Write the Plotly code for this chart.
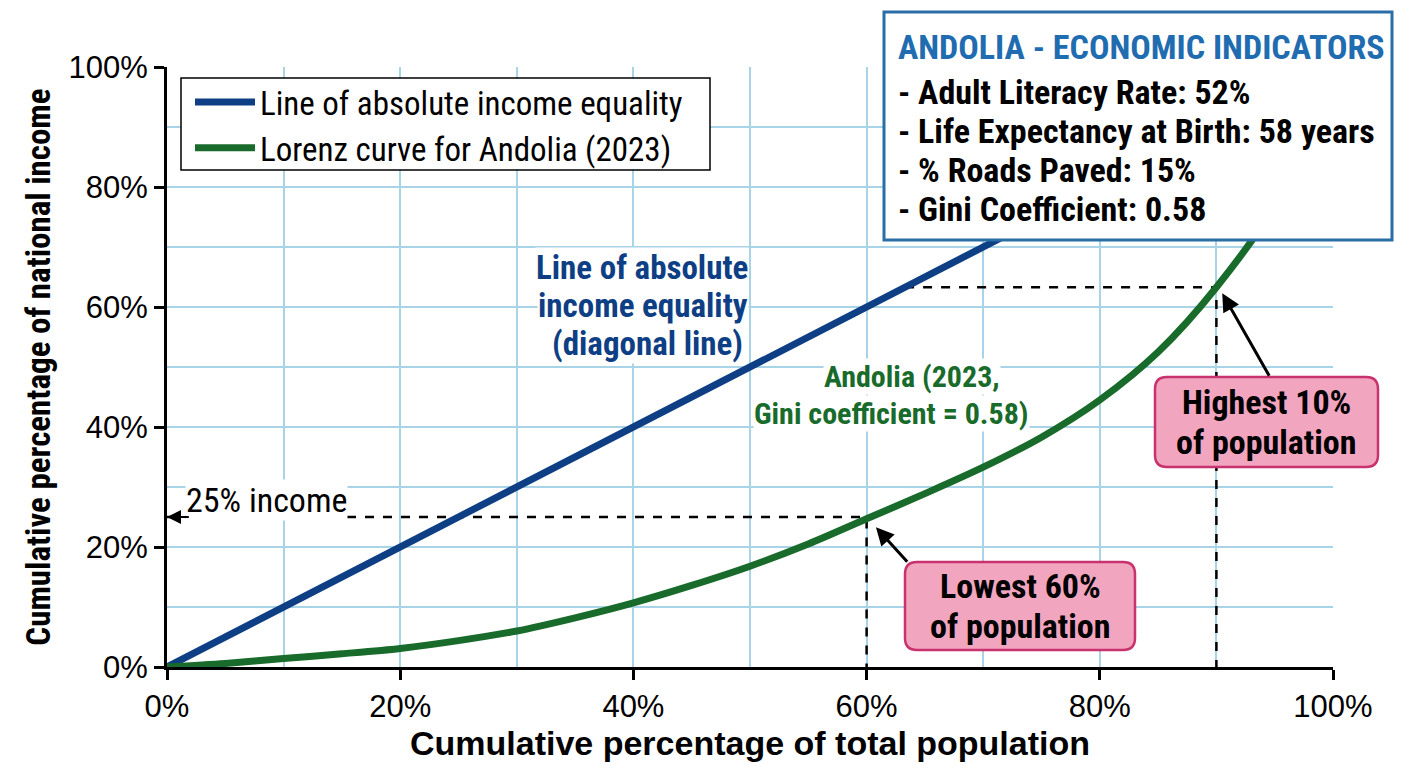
import plotly.graph_objects as go

# ---- data ----
population = [0, 5, 10, 15, 20, 25, 30, 35, 40, 45, 50, 55, 60, 65, 70, 75, 80, 85, 90, 95, 100]
lorenz_income = [0, 0.6, 1.4, 2.2, 3.1, 4.4, 6.0, 8.2, 10.7, 13.6, 16.8, 20.5, 24.7, 28.9,
                 33.3, 38.3, 44.5, 52.5, 63.3, 77, 100]
equality_x = [0, 100]
equality_y = [0, 100]
x_ticks = [0, 20, 40, 60, 80, 100]
x_tick_labels = ["0%", "20%", "40%", "60%", "80%", "100%"]
y_ticks = [0, 20, 40, 60, 80, 100]
y_tick_labels = ["0%", "20%", "40%", "60%", "80%", "100%"]
lowest_point = (60, 25)     # lowest 60% of population -> 25% of income
highest_point = (90, 63.3)  # cumulative share below the top 10%
box_title = "ANDOLIA - ECONOMIC INDICATORS"
indicators = [
    "Adult Literacy Rate: 52%",
    "Life Expectancy at Birth: 58 years",
    "% Roads Paved: 15%",
    "Gini Coefficient: 0.58",
]

BLUE = "#0e3f85"
GREEN = "#186b2a"
GRID = "#a9d3e6"
PINK = "#f2a5bf"
PINK_EDGE = "#c8326e"
NARROW = "Liberation Sans Narrow, Arial Narrow, Roboto Condensed, sans-serif"
SANS = "Liberation Sans, Arial, sans-serif"

# plot area geometry in px (page pixels)
PL, PT, PW, PH = 167, 67, 1166, 600


def px_x(p):
    return (p - PL) / PW


def px_y(p):
    return (PT + PH - p) / PH


def rounded_rect(x0, y0, x1, y1, r=12):
    rx, ry = r / PW, r / PH
    return (f"M {x0+rx},{y0} L {x1-rx},{y0} Q {x1},{y0} {x1},{y0+ry} "
            f"L {x1},{y1-ry} Q {x1},{y1} {x1-rx},{y1} L {x0+rx},{y1} "
            f"Q {x0},{y1} {x0},{y1-ry} L {x0},{y0+ry} Q {x0},{y0} {x0+rx},{y0} Z")


fig = go.Figure()

# reference dashed lines
fig.add_trace(go.Scatter(x=[0, lowest_point[0], lowest_point[0]],
                         y=[lowest_point[1], lowest_point[1], 0],
                         mode="lines", line=dict(color="black", width=2.5, dash="dash"),
                         showlegend=False, hoverinfo="skip"))
fig.add_trace(go.Scatter(x=[highest_point[1], highest_point[0], highest_point[0]],
                         y=[highest_point[1], highest_point[1], 0],
                         mode="lines", line=dict(color="black", width=2.5, dash="dash"),
                         showlegend=False, hoverinfo="skip"))

fig.add_trace(go.Scatter(x=equality_x, y=equality_y, mode="lines",
                         line=dict(color=BLUE, width=7),
                         name="Line of absolute income equality"))
fig.add_trace(go.Scatter(x=population, y=lorenz_income, mode="lines",
                         line=dict(color=GREEN, width=7, shape="spline", smoothing=0.9),
                         name="Lorenz curve for Andolia (2023)"))

ann = []
shapes = []
# blue label
for txt, ypx, xr in [("Line of absolute", 267, 749), ("income equality", 305, 749),
                     ("(diagonal line)", 343, 744)]:
    ann.append(dict(x=px_x(xr), y=px_y(ypx), xref="paper", yref="paper", xanchor="right",
                    yanchor="middle", text="<b>" + txt + "</b>", showarrow=False,
                    bgcolor="white", borderpad=0,
                    font=dict(family=NARROW, size=33, color=BLUE)))
# green label
for txt, ypx, xc in [("Andolia (2023,", 377, 912), ("Gini coefficient = 0.58)", 413, 891)]:
    ann.append(dict(x=px_x(xc), y=px_y(ypx), xref="paper", yref="paper", xanchor="center",
                    yanchor="middle", text="<b>" + txt + "</b>", showarrow=False,
                    bgcolor="white", borderpad=0,
                    font=dict(family=NARROW, size=30, color=GREEN)))
ann.append(dict(x=px_x(185), y=px_y(500), xref="paper", yref="paper", xanchor="left",
                yanchor="middle", text="25% income", showarrow=False, bgcolor="white",
                borderpad=0, font=dict(family=NARROW, size=34, color="black")))
# arrow head on the 25% income line
ann.append(dict(x=0, y=lowest_point[1], ax=2.0, ay=lowest_point[1], xref="x", yref="y",
                axref="x", ayref="y", text="", showarrow=True, arrowhead=2,
                arrowsize=1.4, arrowwidth=2, arrowcolor="black", standoff=0))

# legend frame
shapes.append(dict(type="rect", xref="paper", yref="paper", layer="above",
                   x0=px_x(181), x1=px_x(710), y0=px_y(170), y1=px_y(78),
                   fillcolor="white", line=dict(color="black", width=1.5)))

# pink callouts
callouts = [
    ((905, 650, 1135, 562), 1020, [("Lowest 60%", 586), ("of population", 626)]),
    ((1155, 467, 1378, 377), 1266, [("Highest 10%", 402), ("of population", 442)]),
]
for (x0, y0, x1, y1), xc, lines in callouts:
    shapes.append(dict(type="path", xref="paper", yref="paper", layer="above",
                       path=rounded_rect(px_x(x0), px_y(y0), px_x(x1), px_y(y1), 12),
                       fillcolor=PINK, line=dict(color=PINK_EDGE, width=2.5)))
    for txt, ypx in lines:
        ann.append(dict(x=px_x(xc), y=px_y(ypx), xref="paper", yref="paper",
                        xanchor="center", yanchor="middle", text="<b>" + txt + "</b>",
                        showarrow=False, font=dict(family=NARROW, size=34, color="black")))

ann.append(dict(x=60.8, y=23.3, ax=63.6, ay=17.3, xref="x", yref="y", axref="x", ayref="y",
                text="", showarrow=True, arrowhead=2, arrowsize=1.2, arrowwidth=3,
                arrowcolor="black", standoff=0))
ann.append(dict(x=90.5, y=62.3, ax=94.6, ay=48.3, xref="x", yref="y", axref="x", ayref="y",
                text="", showarrow=True, arrowhead=2, arrowsize=1.2, arrowwidth=3,
                arrowcolor="black", standoff=0))

# indicator box
shapes.append(dict(type="rect", xref="paper", yref="paper", layer="above",
                   x0=px_x(884), x1=px_x(1392), y0=px_y(240), y1=px_y(12),
                   fillcolor="white", line=dict(color="#2a6ea8", width=3)))
box_lines = [(box_title, "#1f6cb0")] + [("- " + s, "black") for s in indicators]
box_y = [47, 92, 131, 170, 209]
for (txt, col), ypx in zip(box_lines, box_y):
    ann.append(dict(x=px_x(896), y=px_y(ypx), xref="paper", yref="paper", xanchor="left",
                    yanchor="middle", text="<b>" + txt + "</b>", showarrow=False,
                    font=dict(family=NARROW, size=34, color=col)))

axis_common = dict(range=[0, 100], showline=True, linecolor="black", linewidth=3,
                   ticks="outside", ticklen=10, tickwidth=3, tickcolor="black",
                   showgrid=True, gridcolor=GRID, gridwidth=1.5, zeroline=False,
                   tickfont=dict(family=SANS, size=31, color="black"),
                   minor=dict(dtick=10, showgrid=True, gridcolor=GRID, gridwidth=1.5),
                   fixedrange=True, automargin=False)

fig.update_layout(
    width=1400, height=760,
    margin=dict(l=159, r=75, t=59, b=101),
    paper_bgcolor="white", plot_bgcolor="white",
    xaxis=dict(**axis_common, tickvals=x_ticks, ticktext=x_tick_labels,
               title=dict(text="<b>Cumulative percentage of total population</b>",
                          font=dict(family=SANS, size=34, color="black"), standoff=8)),
    yaxis=dict(**axis_common, tickvals=y_ticks, ticktext=y_tick_labels,
               title=dict(text="<b>Cumulative percentage of national income</b>",
                          font=dict(family=NARROW, size=33, color="black"), standoff=8)),
    legend=dict(x=px_x(190), y=px_y(74), xanchor="left", yanchor="top",
                borderwidth=0, bgcolor="rgba(0,0,0,0)",
                font=dict(family=NARROW, size=33, color="black"),
                itemwidth=60, tracegroupgap=0),
    annotations=ann,
    shapes=shapes,
    showlegend=True,
)

fig.write_html("out.html")
